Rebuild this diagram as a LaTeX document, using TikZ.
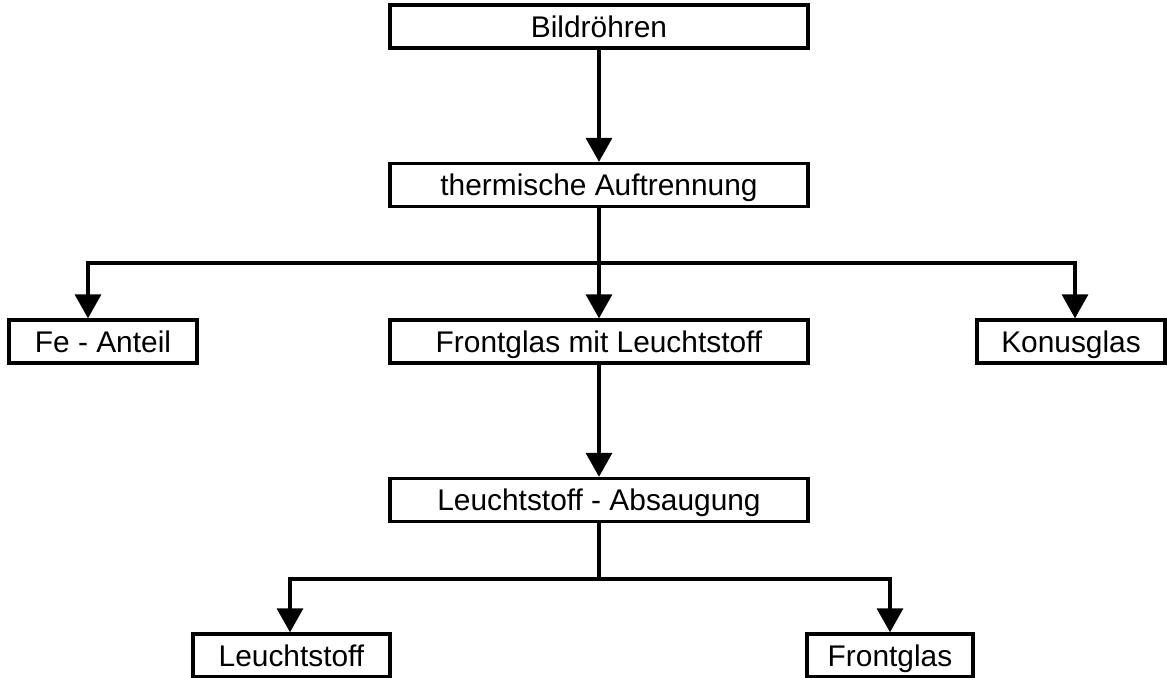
\documentclass[tikz,border=0pt]{standalone}
\usepackage{fontspec}
\setmainfont{Liberation Sans}
\usetikzlibrary{arrows.meta}
\begin{document}
\begin{tikzpicture}[
  kasten/.style={draw=black,line width=1.9pt,fill=white,inner sep=0pt,minimum height=0.86cm,
                 text height=12.2pt,text depth=0pt,font=\fontsize{17}{20}\selectfont},
  linie/.style={line width=1.9pt,line join=miter},
  pfeil/.style={linie,-{Triangle[width=0.52cm,length=0.48cm]}}]
\useasboundingbox (0,0) rectangle (23.34,13.56);

\node[kasten,minimum width=8.36cm] (bild)   at (11.98,13.03) {Bildröhren};
\node[kasten,minimum width=8.36cm] (therm)  at (11.98,9.86)  {thermische Auftrennung};
\node[kasten,minimum width=3.76cm] (fe)     at (2.06,6.73)   {Fe - Anteil};
\node[kasten,minimum width=8.36cm] (front)  at (11.98,6.73)  {Frontglas mit Leuchtstoff};
\node[kasten,minimum width=3.76cm] (konus)  at (21.42,6.73)  {Konusglas};
\node[kasten,minimum width=8.36cm] (abs)    at (11.98,3.56)  {Leuchtstoff - Absaugung};
\node[kasten,minimum width=3.94cm] (leucht) at (5.83,0.45)   {Leuchtstoff};
\node[kasten,minimum width=3.32cm] (glas)   at (17.8,0.45)   {Frontglas};

\coordinate (l1) at (1.76,8.3);
\coordinate (r1) at (21.5,8.3);
\coordinate (l2) at (5.8,1.98);
\coordinate (r2) at (17.8,1.98);

\draw[pfeil] (bild) -- (therm);
\draw[pfeil] (therm) -- (front);
\draw[pfeil] (therm.south |- l1) -- (l1) -- (l1 |- fe.north);
\draw[pfeil] (therm.south |- r1) -- (r1) -- (r1 |- konus.north);
\draw[pfeil] (front) -- (abs);
\draw[pfeil] (abs.south) -- (abs.south |- l2) -- (l2) -- (l2 |- leucht.north);
\draw[pfeil] (abs.south |- r2) -- (r2) -- (r2 |- glas.north);

\end{tikzpicture}
\end{document}
